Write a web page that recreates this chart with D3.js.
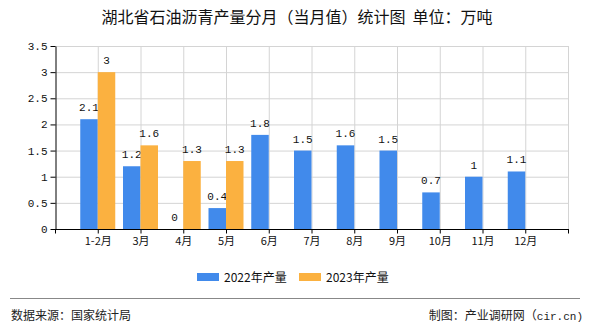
<!DOCTYPE html>
<html><head><meta charset="utf-8">
<script src="https://cdn.jsdelivr.net/npm/d3@7"></script>
<style>body{margin:0;background:#fff}svg{display:block}</style>
</head><body>
<svg id="c" width="590" height="330"></svg>
<script>
const categories = ["1-2月","3月","4月","5月","6月","7月","8月","9月","10月","11月","12月"];
const series2022 = [2.1,1.2,0,0.4,1.8,1.5,1.6,1.5,0.7,1,1.1];
const series2023 = [3,1.6,1.3,1.3,null,null,null,null,null,null,null];
const seriesNames = ["2022年产量","2023年产量"];
const yTicks = [0,0.5,1,1.5,2,2.5,3,3.5];
const colors = ["#418aeb","#fbb140"];

const svg = d3.select("#c");
const L=55, R=568, T=46, B=229;
const x = d3.scalePoint().domain(categories).range([L,R]).padding(1);
const y = d3.scaleLinear().domain([0,3.5]).range([B,T]);
const bw = 17.5;
const numFont = "'Liberation Mono','DejaVu Sans Mono',monospace";
const cjk = "'Noto Sans CJK SC','Noto Sans',sans-serif";

// title
svg.append("text").attr("x",297).attr("y",23).attr("text-anchor","middle")
  .attr("font-family",cjk).attr("font-size",16).attr("fill","#111")
  .attr("xml:space","preserve")
  .text("湖北省石油沥青产量分月（当月值）统计图  单位：万吨");

// grid
const g = svg.append("g");
g.selectAll(".hg").data(yTicks).join("line")
  .attr("x1",L).attr("x2",R).attr("y1",d=>y(d)+0.5).attr("y2",d=>y(d)+0.5)
  .attr("stroke","#d4d4d4").attr("stroke-width",1);
g.selectAll(".vg").data(categories.concat(["__end"])).join("line")
  .attr("x1",d=>d==="__end"?R+0.5:x(d)+0.5).attr("x2",d=>d==="__end"?R+0.5:x(d)+0.5)
  .attr("y1",T).attr("y2",B).attr("stroke","#d4d4d4").attr("stroke-width",1);

// bars
const data = [series2022, series2023];
data.forEach((s,si)=>{
  const off = si===0 ? -bw : 0;
  const pts = categories.map((c,i)=>({c,v:s[i]})).filter(d=>d.v!==null);
  svg.append("g").selectAll("rect").data(pts).join("rect")
    .attr("x",d=>x(d.c)+off).attr("width",bw)
    .attr("y",d=>y(d.v)).attr("height",d=>B-y(d.v))
    .attr("fill",colors[si]);
  svg.append("g").selectAll("text").data(pts).join("text")
    .attr("x",d=>x(d.c)+off+bw/2).attr("y",d=>y(d.v)-8)
    .attr("text-anchor","middle").attr("font-family",numFont).attr("font-size",11)
    .attr("fill","#111").text(d=>String(d.v));
});

// y axis
const ya = svg.append("g").attr("transform",`translate(${L+0.5},0)`)
  .call(d3.axisLeft(y).tickValues(yTicks).tickSize(5).tickPadding(3).tickSizeOuter(0).tickFormat(d3.format("")));
ya.select(".domain").attr("stroke","#000");
ya.selectAll("text").attr("font-family",numFont).attr("font-size",11).attr("fill","#111");

// x axis
const xa = svg.append("g").attr("transform",`translate(0,${B+0.5})`)
  .call(d3.axisBottom(x).tickSize(4).tickPadding(4).tickSizeOuter(0));
xa.select(".domain").attr("stroke","#000").attr("d",`M${L},0H${R+1}`);
xa.selectAll("line").attr("stroke","#000");
xa.selectAll("text").attr("font-family",cjk).attr("font-size",11).attr("fill","#111");
[L+0.5,R+0.5].forEach(px=>xa.append("line").attr("x1",px).attr("x2",px).attr("y1",0).attr("y2",4).attr("stroke","#000"));

// legend
const lg = svg.append("g");
const lx = [197,299];
seriesNames.forEach((n,i)=>{
  lg.append("rect").attr("x",lx[i]).attr("y",273).attr("width",22).attr("height",8).attr("fill",colors[i]);
  lg.append("text").attr("x",lx[i]+27).attr("y",281.5).attr("font-family",cjk).attr("font-size",12)
    .attr("fill","#111").text(n);
});

// footer
svg.append("line").attr("x1",10).attr("x2",580).attr("y1",298.5).attr("y2",298.5).attr("stroke","#888");
svg.append("text").attr("x",11).attr("y",320).attr("font-family",cjk).attr("font-size",12).attr("fill","#222")
  .text("数据来源：国家统计局");
const rt = svg.append("text").attr("x",583).attr("y",320).attr("text-anchor","end").attr("font-family",cjk).attr("font-size",12).attr("fill","#222");
rt.append("tspan").text("制图：产业调研网（");
rt.append("tspan").attr("font-family",numFont).attr("font-size",11).text("cir.cn)");
</script>
</body></html>
